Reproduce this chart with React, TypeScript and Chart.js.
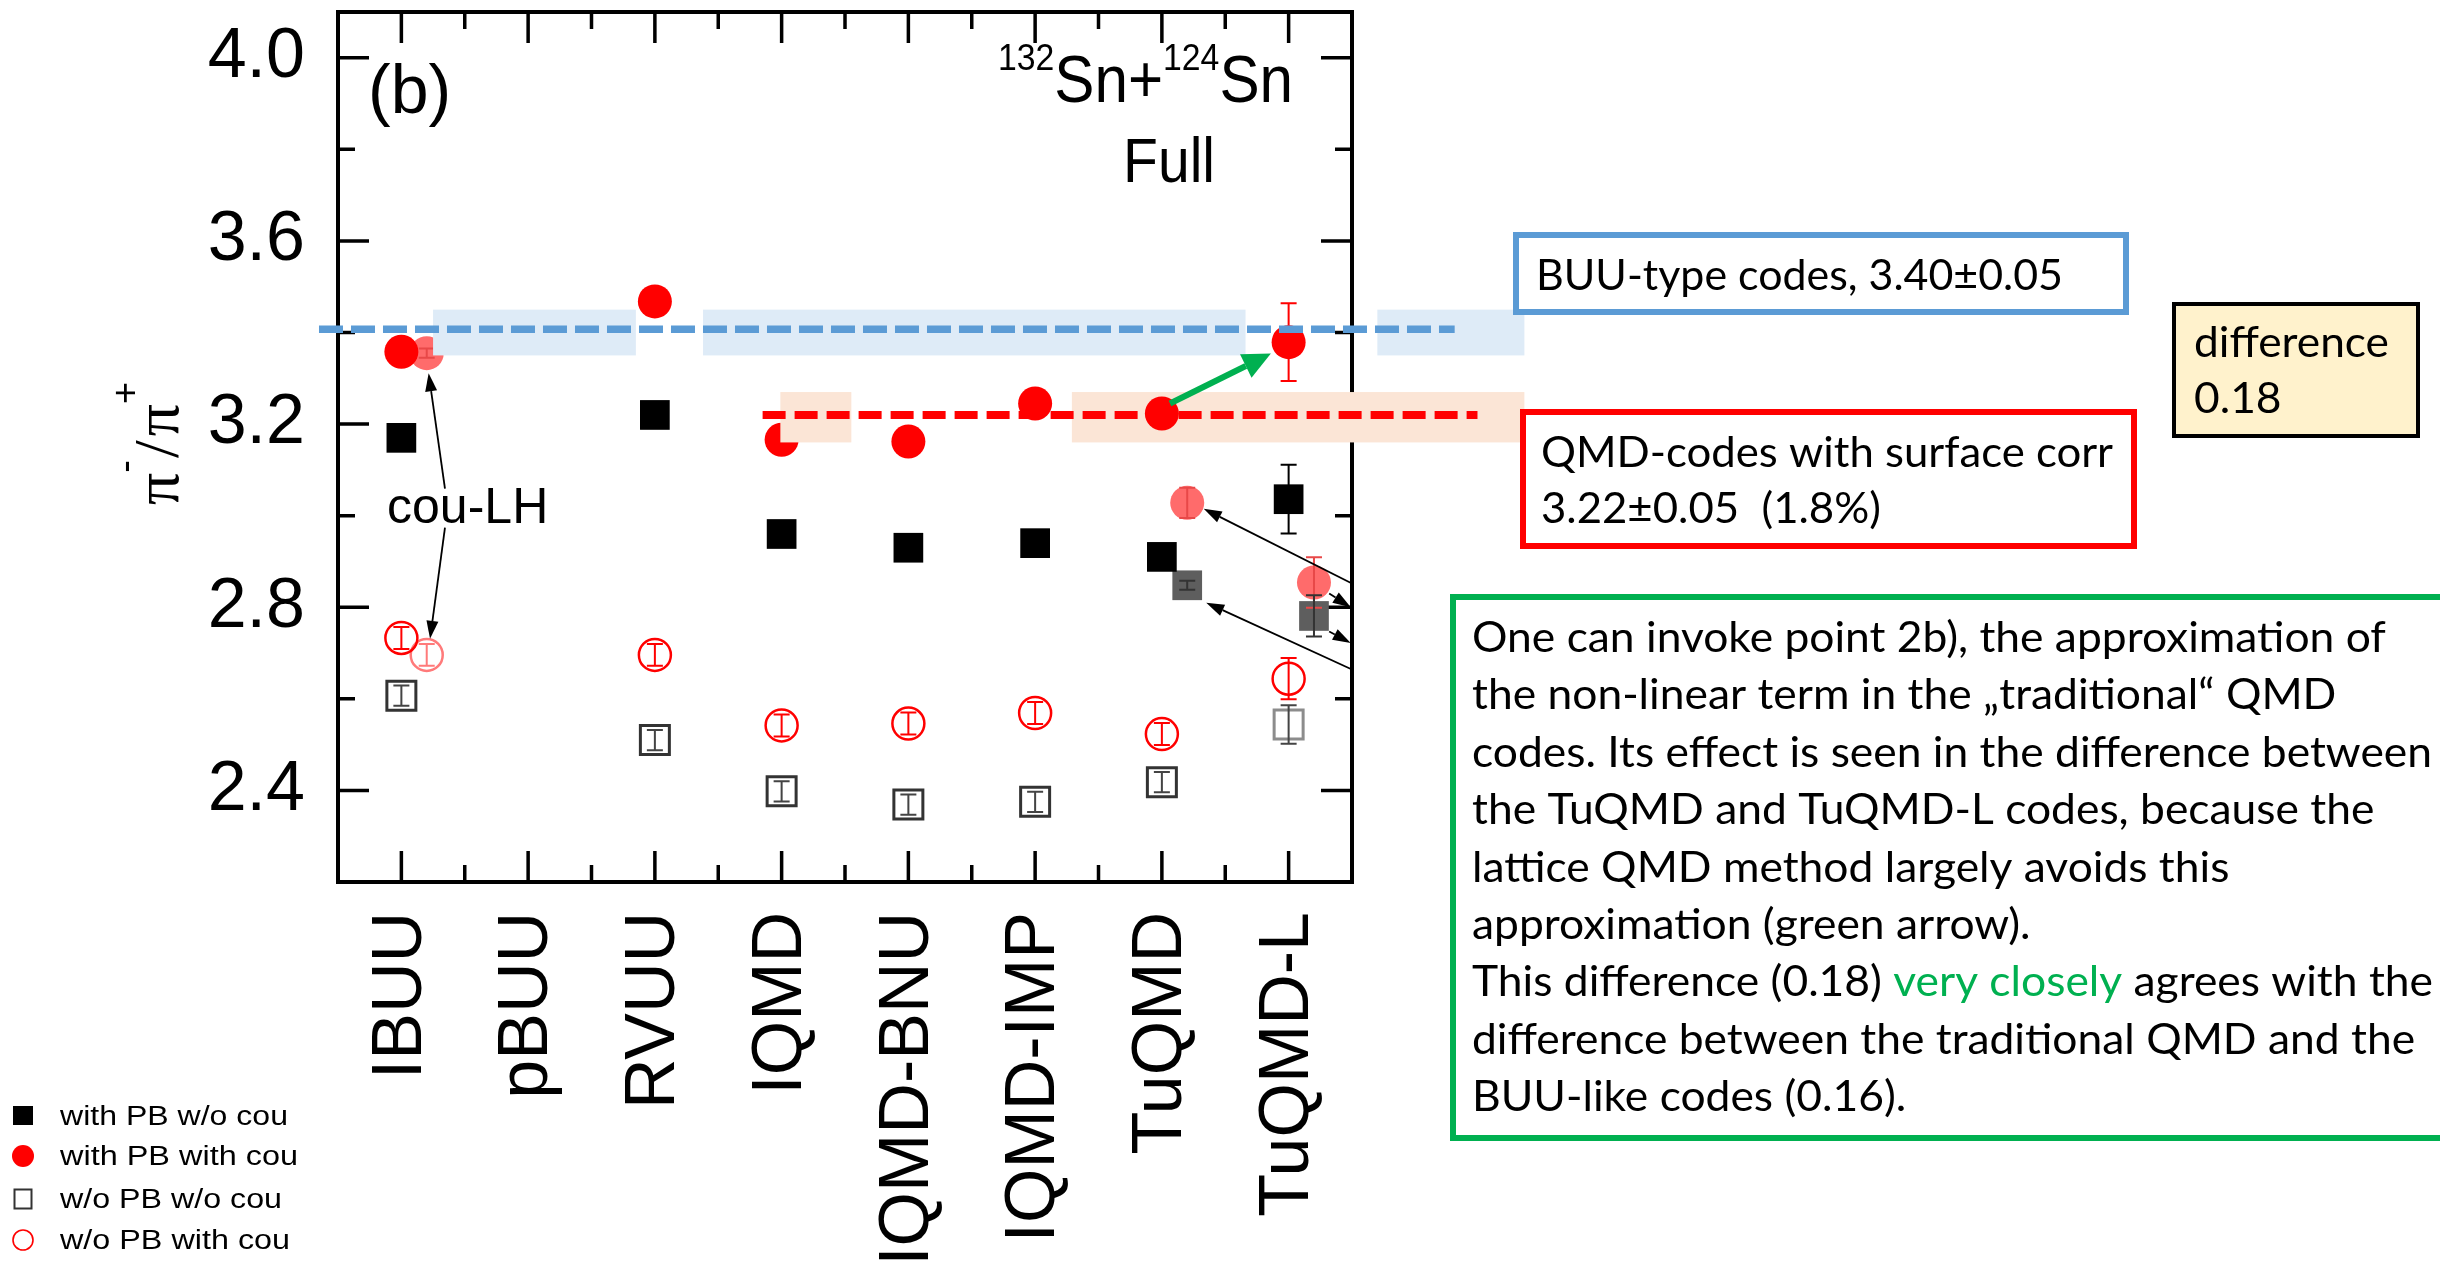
import React, { useEffect, useRef } from 'react';
import { Chart, registerables } from 'chart.js';

Chart.register(...registerables);

// ---------------- data ----------------
const categories = ['IBUU', 'pBUU', 'RVUU', 'IQMD', 'IQMD-BNU', 'IQMD-IMP', 'TuQMD', 'TuQMD-L'];

// with PB w/o cou (filled black squares)
const withPbNoCou = [3.17, null, 3.22, 2.96, 2.93, 2.94, 2.91, 3.036];
const withPbNoCouErr = [0, 0, 0, 0, 0, 0, 0, 0.075];
// with PB with cou (filled red circles)
const withPbWithCou = [3.358, null, 3.468, 3.166, 3.162, 3.245, 3.223, 3.379];
const withPbWithCouErr = [0, 0, 0, 0, 0, 0, 0, 0.085];
// w/o PB w/o cou (open squares)
const noPbNoCou = [2.607, null, 2.51, 2.398, 2.369, 2.375, 2.418, 2.544];
const noPbNoCouErr = [0.022, 0, 0.022, 0.022, 0.022, 0.022, 0.022, 0.042];
// w/o PB with cou (open red circles)
const noPbWithCou = [2.733, null, 2.696, 2.542, 2.546, 2.569, 2.523, 2.644];
const noPbWithCouErr = [0.024, 0, 0.024, 0.024, 0.024, 0.024, 0.024, 0.045];

// variant runs (cou-LH for IBUU, alternative runs for TuQMD / TuQMD-L)
const variantOffset = 0.2;
const variantCircleCodes = ['IBUU', 'TuQMD', 'TuQMD-L'];
const variantCircle = [3.355, 3.028, 2.854];
const variantCircleErr = [0.01, 0.033, 0.055];
const variantOpenCircleCodes = ['IBUU'];
const variantOpenCircle = [2.696];
const variantOpenCircleErr = [0.024];
const variantSquareCodes = ['TuQMD', 'TuQMD-L'];
const variantSquare = [2.848, 2.781];
const variantSquareErr = [0.01, 0.045];

const yMajorTicks = [2.4, 2.8, 3.2, 3.6, 4.0];
const yMinorTicks = [2.6, 3.0, 3.4, 3.8];

// averages shown as bands / dashed lines
const buuMean = 3.4;
const buuSpread = 0.05;
const buuLineLevel = 3.407;
const qmdMean = 3.215;
const qmdSpread = 0.055;
const qmdLineLevel = 3.22;
const buuBandRanges = [[0.25, 1.85], [2.38, 6.66], [7.7, 8.86]];
const qmdBandFront = [2.99, 3.55];
const qmdBandBack = [5.29, 8.86];
const buuLineRange = [-0.65, 8.31];
const qmdLineRange = [2.85, 8.49];

const legendLabels = ['with PB w/o cou', 'with PB with cou', 'w/o PB w/o cou', 'w/o PB with cou'];

const greenLines: { t: string; c: string }[][] = [
  [{ t: 'One can invoke point 2b), the approximation of', c: '#000' }],
  [{ t: 'the non-linear term in the \u201Etraditional\u201C QMD', c: '#000' }],
  [{ t: 'codes. Its effect is seen in the difference between', c: '#000' }],
  [{ t: 'the TuQMD and TuQMD-L codes, because the', c: '#000' }],
  [{ t: 'lattice QMD method largely avoids this', c: '#000' }],
  [{ t: 'approximation (green arrow).', c: '#000' }],
  [
    { t: 'This difference (0.18) ', c: '#000' },
    { t: 'very closely', c: '#00B050' },
    { t: ' agrees with the', c: '#000' },
  ],
  [{ t: 'difference between the traditional QMD and the', c: '#000' }],
  [{ t: 'BUU-like codes (0.16).', c: '#000' }],
];

// ---------------- helpers ----------------
const pts = (vals: (number | null)[], errs: number[]) =>
  categories
    .map((_, i) => (vals[i] == null ? null : { x: i, y: vals[i] as number, e: errs[i] }))
    .filter((p) => p !== null);

const variantPts = (codes: string[], vals: number[], errs: number[]) =>
  codes.map((c, k) => ({ x: categories.indexOf(c) + variantOffset, y: vals[k], e: errs[k] }));

const SANS = '"Liberation Sans", Arial, sans-serif';
const CAL = 'Lato, "Noto Sans", sans-serif';

function arrow(ctx: CanvasRenderingContext2D, x1: number, y1: number, x2: number, y2: number,
  color: string, lw: number, headLen: number, headW: number) {
  const ang = Math.atan2(y2 - y1, x2 - x1);
  const bx = x2 - headLen * Math.cos(ang);
  const by = y2 - headLen * Math.sin(ang);
  ctx.strokeStyle = color;
  ctx.lineWidth = lw;
  ctx.setLineDash([]);
  ctx.beginPath();
  ctx.moveTo(x1, y1);
  ctx.lineTo(bx, by);
  ctx.stroke();
  ctx.fillStyle = color;
  ctx.beginPath();
  ctx.moveTo(x2, y2);
  ctx.lineTo(bx + headW * Math.sin(ang), by - headW * Math.cos(ang));
  ctx.lineTo(bx - headW * Math.sin(ang), by + headW * Math.cos(ang));
  ctx.closePath();
  ctx.fill();
}

function fitLines(ctx: CanvasRenderingContext2D, lines: { t: string; c: string }[][], left: number,
  base0: number, lineH: number, font: string, refIdx: number, refWidth: number) {
  ctx.font = font;
  ctx.textAlign = 'left';
  ctx.textBaseline = 'alphabetic';
  const refW = lines[refIdx].reduce((s, seg) => s + ctx.measureText(seg.t).width, 0);
  const sx = refWidth / refW;
  lines.forEach((line, k) => {
    ctx.save();
    ctx.translate(left, base0 + k * lineH);
    ctx.scale(sx, 1);
    let cx = 0;
    line.forEach((seg) => {
      ctx.fillStyle = seg.c;
      ctx.fillText(seg.t, cx, 0);
      cx += ctx.measureText(seg.t).width;
    });
    ctx.restore();
  });
}

function richLine(ctx: CanvasRenderingContext2D, segs: { t: string; font: string; dy: number }[],
  left: number, base: number, targetWidth: number) {
  let total = 0;
  segs.forEach((s) => { ctx.font = s.font; total += ctx.measureText(s.t).width; });
  const sx = targetWidth / total;
  ctx.save();
  ctx.translate(left, base);
  ctx.scale(sx, 1);
  ctx.fillStyle = '#000';
  ctx.textAlign = 'left';
  ctx.textBaseline = 'alphabetic';
  let cx = 0;
  segs.forEach((s) => {
    ctx.font = s.font;
    ctx.fillText(s.t, cx, s.dy);
    cx += ctx.measureText(s.t).width;
  });
  ctx.restore();
}

const band = (ctx: CanvasRenderingContext2D, xs: any, ys: any, r: number[], lo: number, hi: number, color: string) => {
  const x1 = xs.getPixelForValue(r[0]);
  const x2 = xs.getPixelForValue(r[1]);
  const y1 = ys.getPixelForValue(hi);
  const y2 = ys.getPixelForValue(lo);
  ctx.fillStyle = color;
  ctx.fillRect(x1, y1, x2 - x1, y2 - y1);
};

// ---------------- plugin ----------------
const decorPlugin = {
  id: 'decor',
  beforeDatasetsDraw(chart: any) {
    const { ctx, chartArea: a, scales } = chart;
    const xs = scales.x;
    const ys = scales.y;
    ctx.save();
    ctx.strokeStyle = '#000';
    ctx.lineWidth = 4;
    ctx.strokeRect(a.left, a.top, a.right - a.left, a.bottom - a.top);
    ctx.lineWidth = 3.5;
    ctx.beginPath();
    const t = (px: number, py: number, dx: number, dy: number) => { ctx.moveTo(px, py); ctx.lineTo(px + dx, py + dy); };
    yMajorTicks.forEach((v) => { const p = ys.getPixelForValue(v); t(a.left, p, 31, 0); t(a.right, p, -31, 0); });
    yMinorTicks.forEach((v) => { const p = ys.getPixelForValue(v); t(a.left, p, 17, 0); t(a.right, p, -17, 0); });
    categories.forEach((_, i) => {
      const p = xs.getPixelForValue(i);
      t(p, a.bottom, 0, -31); t(p, a.top, 0, 31);
      if (i < categories.length - 1) {
        const q = xs.getPixelForValue(i + 0.5);
        t(q, a.bottom, 0, -17); t(q, a.top, 0, 17);
      }
    });
    ctx.stroke();
    // QMD band behind TuQMD point (covers right axis)
    band(ctx, xs, ys, qmdBandBack, qmdMean - qmdSpread, qmdMean + qmdSpread, '#FBE5D6');
    ctx.restore();
  },
  afterDatasetsDraw(chart: any) {
    const { ctx, scales } = chart;
    const xs = scales.x;
    const ys = scales.y;
    ctx.save();
    // error bars
    chart.data.datasets.forEach((ds: any, di: number) => {
      const meta = chart.getDatasetMeta(di);
      ctx.strokeStyle = ds.errColor;
      ctx.lineWidth = 2;
      meta.data.forEach((el: any, j: number) => {
        const d = ds.data[j];
        if (!d || !d.e) return;
        const top = ys.getPixelForValue(d.y + d.e);
        const bot = ys.getPixelForValue(d.y - d.e);
        ctx.beginPath();
        ctx.moveTo(el.x, top); ctx.lineTo(el.x, bot);
        ctx.moveTo(el.x - 8, top); ctx.lineTo(el.x + 8, top);
        ctx.moveTo(el.x - 8, bot); ctx.lineTo(el.x + 8, bot);
        ctx.stroke();
      });
    });
    // bands in front
    buuBandRanges.forEach((r) => band(ctx, xs, ys, r, buuMean - buuSpread, buuMean + buuSpread, '#DEEBF7'));
    band(ctx, xs, ys, qmdBandFront, qmdMean - qmdSpread, qmdMean + qmdSpread, '#FBE5D6');
    // dashed mean lines
    ctx.lineWidth = 7.5;
    ctx.strokeStyle = '#5B9BD5';
    ctx.setLineDash([24, 8]);
    ctx.beginPath();
    ctx.moveTo(xs.getPixelForValue(buuLineRange[0]), ys.getPixelForValue(buuLineLevel));
    ctx.lineTo(xs.getPixelForValue(buuLineRange[1]), ys.getPixelForValue(buuLineLevel));
    ctx.stroke();
    ctx.lineWidth = 8;
    ctx.strokeStyle = '#FF0000';
    ctx.setLineDash([23, 9]);
    ctx.beginPath();
    ctx.moveTo(xs.getPixelForValue(qmdLineRange[0]), ys.getPixelForValue(qmdLineLevel));
    ctx.lineTo(xs.getPixelForValue(qmdLineRange[1]), ys.getPixelForValue(qmdLineLevel));
    ctx.stroke();
    ctx.setLineDash([]);
    const P = (x: number, y: number) => [xs.getPixelForValue(x), ys.getPixelForValue(y)];
    // green arrow TuQMD -> TuQMD-L
    {
      const [x1, y1] = P(6.064, 3.245);
      const [x2, y2] = P(6.86, 3.354);
      arrow(ctx, x1, y1, x2, y2, '#00B050', 6, 28, 13);
    }
    // cou-LH arrows
    {
      const [a1, b1] = P(0.344, 3.059);
      const [a2, b2] = P(0.215, 3.311);
      arrow(ctx, a1, b1, a2, b2, '#000', 1.8, 18, 6);
      const [c1, d1] = P(0.344, 2.974);
      const [c2, d2] = P(0.226, 2.731);
      arrow(ctx, c1, d1, c2, d2, '#000', 1.8, 18, 6);
    }
    // arrows pointing to alternative runs
    {
      const list = [
        [7.5, 2.852, 6.33, 3.015],
        [7.5, 2.664, 6.35, 2.81],
        [7.32, 2.83, 7.49, 2.80],
        [7.32, 2.747, 7.49, 2.722],
      ];
      list.forEach(([x1v, y1v, x2v, y2v]) => {
        const [x1, y1] = P(x1v, y1v);
        const [x2, y2] = P(x2v, y2v);
        arrow(ctx, x1, y1, x2, y2, '#000', 1.8, 18, 6);
      });
    }
    // cou-LH text
    ctx.fillStyle = '#000';
    ctx.font = `50px ${SANS}`;
    ctx.textAlign = 'left';
    ctx.textBaseline = 'alphabetic';
    {
      const [tx, ty] = P(-0.113, 2.983);
      ctx.fillText('cou-LH', tx, ty);
    }
    ctx.restore();
  },
  afterDraw(chart: any) {
    const { ctx } = chart;
    ctx.save();
    ctx.fillStyle = '#000';
    ctx.textAlign = 'left';
    ctx.textBaseline = 'alphabetic';
    // (b)
    ctx.font = `68px ${SANS}`;
    ctx.fillText('(b)', 368, 113);
    // reaction label
    richLine(ctx, [
      { t: '132', font: `37px ${SANS}`, dy: -32 },
      { t: 'Sn+', font: `66px ${SANS}`, dy: 0 },
      { t: '124', font: `37px ${SANS}`, dy: -32 },
      { t: 'Sn', font: `66px ${SANS}`, dy: 0 },
    ], 998, 102, 295);
    richLine(ctx, [{ t: 'Full', font: `63px ${SANS}`, dy: 0 }], 1123, 182, 92);

    // y axis title  pi-/pi+
    ctx.save();
    ctx.translate(178, 505);
    ctx.rotate(-Math.PI / 2);
    ctx.fillStyle = '#000';
    const big = '64px "Liberation Serif", serif';
    const small = `38px ${SANS}`;
    let cx = 0;
    ctx.font = big; ctx.fillText('\u03C0', cx, 0); cx += ctx.measureText('\u03C0').width;
    ctx.font = small; ctx.fillText('-', cx, -40); cx += ctx.measureText('-').width + 2;
    ctx.font = big; ctx.fillText('/', cx, 0); cx += ctx.measureText('/').width + 4;
    ctx.fillText('\u03C0', cx, 0); cx += ctx.measureText('\u03C0').width;
    ctx.font = small; ctx.fillText('+', cx, -40);
    ctx.restore();

    // legend
    const ds = chart.data.datasets;
    const rows = [1116, 1156, 1199, 1240];
    const mx = 23;
    ctx.fillStyle = '#000';
    ctx.fillRect(mx - 10, rows[0] - 10, 20, 19);
    ctx.fillStyle = '#FF0000';
    ctx.beginPath(); ctx.ellipse(mx, rows[1], 11, 11, 0, 0, Math.PI * 2); ctx.fill();
    ctx.strokeStyle = '#333'; ctx.lineWidth = 2;
    ctx.strokeRect(mx - 8.5, rows[2] - 9.5, 17, 19);
    ctx.strokeStyle = '#FF0000'; ctx.lineWidth = 1.6;
    ctx.beginPath(); ctx.ellipse(mx, rows[3], 10, 10, 0, 0, Math.PI * 2); ctx.stroke();
    legendLabels.forEach((lab, k) => {
      const label = (ds.find((d: any) => d.label === lab) || { label: lab }).label;
      richLine(ctx, [{ t: label, font: `27px ${SANS}`, dy: 0 }], 60, rows[k] + 9,
        k === 1 ? 238 : k === 3 ? 230 : k === 2 ? 222 : 228);
    });

    // ---- annotation boxes ----
    // blue box
    ctx.fillStyle = '#fff';
    ctx.fillRect(1516, 235, 610, 77);
    ctx.strokeStyle = '#5B9BD5'; ctx.lineWidth = 6;
    ctx.strokeRect(1516, 235, 610, 77);
    fitLines(ctx, [[{ t: 'BUU-type codes, 3.40\u00B10.05', c: '#000' }]], 1536, 290, 0, `43px ${CAL}`, 0, 527);
    // difference box
    ctx.fillStyle = '#FFF2CC';
    ctx.fillRect(2174, 304, 244, 132);
    ctx.strokeStyle = '#000'; ctx.lineWidth = 4;
    ctx.strokeRect(2174, 304, 244, 132);
    fitLines(ctx, [[{ t: 'difference', c: '#000' }], [{ t: '0.18', c: '#000' }]], 2194, 357, 56, `43px ${CAL}`, 0, 195);
    // red box
    ctx.fillStyle = '#fff';
    ctx.fillRect(1523, 412, 611, 134);
    ctx.strokeStyle = '#FF0000'; ctx.lineWidth = 6;
    ctx.strokeRect(1523, 412, 611, 134);
    fitLines(ctx, [
      [{ t: 'QMD-codes with surface corr', c: '#000' }],
      [{ t: '3.22\u00B10.05  (1.8%)', c: '#000' }],
    ], 1541, 467, 56, `43px ${CAL}`, 0, 572);
    // green box
    ctx.fillStyle = '#fff';
    ctx.fillRect(1453, 597, 1100, 541);
    ctx.strokeStyle = '#00B050'; ctx.lineWidth = 6;
    ctx.strokeRect(1453, 597, 1100, 541);
    fitLines(ctx, greenLines, 1472, 652, 57.4, `43px ${CAL}`, 2, 960);
    ctx.restore();
  },
};

// ---------------- component ----------------
export default function App() {
  const ref = useRef<HTMLCanvasElement>(null);
  useEffect(() => {
    const canvas = ref.current;
    if (!canvas) return;
    const openSquareColor = (c: any) => (c.raw && c.raw.x === 7 ? '#8c8c8c' : '#333');
    const chart = new Chart(canvas, {
      type: 'scatter',
      data: {
        datasets: [
          {
            label: 'with PB with cou',
            data: pts(withPbWithCou, withPbWithCouErr),
            pointStyle: 'circle', pointRadius: 17,
            pointBackgroundColor: '#FF0000', pointBorderColor: '#FF0000', pointBorderWidth: 0,
            errColor: '#FF0000',
          },
          {
            label: 'with PB w/o cou',
            data: pts(withPbNoCou, withPbNoCouErr),
            pointStyle: 'rect', pointRadius: 21,
            pointBackgroundColor: '#000', pointBorderColor: '#000', pointBorderWidth: 0,
            errColor: '#000',
          },
          {
            label: 'with PB with cou (variant)',
            data: variantPts(variantCircleCodes, variantCircle, variantCircleErr),
            pointStyle: 'circle', pointRadius: 17,
            pointBackgroundColor: '#FF6B6B', pointBorderColor: '#FF6B6B', pointBorderWidth: 0,
            errColor: '#E84848',
          },
          {
            label: 'with PB w/o cou (variant)',
            data: variantPts(variantSquareCodes, variantSquare, variantSquareErr),
            pointStyle: 'rect', pointRadius: 21,
            pointBackgroundColor: '#5E5E5E', pointBorderColor: '#5E5E5E', pointBorderWidth: 0,
            errColor: '#333',
          },
          {
            label: 'w/o PB with cou',
            data: pts(noPbWithCou, noPbWithCouErr),
            pointStyle: 'circle', pointRadius: 16,
            pointBackgroundColor: 'rgba(0,0,0,0)', pointBorderColor: '#FF0000', pointBorderWidth: 2.5,
            errColor: '#FF0000',
          },
          {
            label: 'w/o PB with cou (variant)',
            data: variantPts(variantOpenCircleCodes, variantOpenCircle, variantOpenCircleErr),
            pointStyle: 'circle', pointRadius: 16,
            pointBackgroundColor: 'rgba(0,0,0,0)', pointBorderColor: '#FF7A7A', pointBorderWidth: 2.5,
            errColor: '#FF7A7A',
          },
          {
            label: 'w/o PB w/o cou',
            data: pts(noPbNoCou, noPbNoCouErr),
            pointStyle: 'rect', pointRadius: 20.5,
            pointBackgroundColor: 'rgba(0,0,0,0)', pointBorderColor: openSquareColor, pointBorderWidth: 3,
            errColor: '#444',
          },
        ] as any,
      },
      options: {
        animation: false,
        responsive: false,
        devicePixelRatio: 1,
        events: [],
        layout: { autoPadding: false, padding: { left: 0, top: 12, right: 1088, bottom: 0 } },
        plugins: { legend: { display: false }, tooltip: { enabled: false } },
        scales: {
          x: {
            type: 'linear',
            position: 'bottom',
            min: -0.5,
            max: 7.5,
            grid: { display: false, drawTicks: false },
            border: { display: false },
            afterBuildTicks: (s: any) => { s.ticks = categories.map((_, i) => ({ value: i })); },
            afterFit: (s: any) => { s.height = 397; s.paddingLeft = 0; s.paddingRight = 0; },
            ticks: {
              autoSkip: false,
              minRotation: 90,
              maxRotation: 90,
              padding: 30,
              color: '#000',
              font: { family: SANS, size: 70 },
              callback: (v: any) => categories[v] ?? '',
            },
          },
          y: {
            type: 'linear',
            min: 2.2,
            max: 4.1,
            grid: { display: false, drawTicks: false },
            border: { display: false },
            afterBuildTicks: (s: any) => { s.ticks = yMajorTicks.map((v) => ({ value: v })); },
            afterFit: (s: any) => { s.width = 338; s.paddingTop = 0; s.paddingBottom = 0; },
            ticks: {
              padding: 33,
              color: '#000',
              font: { family: SANS, size: 70 },
              callback: (v: any) => Number(v).toFixed(1),
            },
          },
        },
      } as any,
      plugins: [decorPlugin],
    });
    return () => chart.destroy();
  }, []);
  return (
    <div style={{ position: 'fixed', left: 0, top: 0, width: 2440, height: 1279, background: '#fff', overflow: 'hidden' }}>
      <canvas ref={ref} width={2440} height={1279} style={{ display: 'block', width: 2440, height: 1279 }} />
    </div>
  );
}
